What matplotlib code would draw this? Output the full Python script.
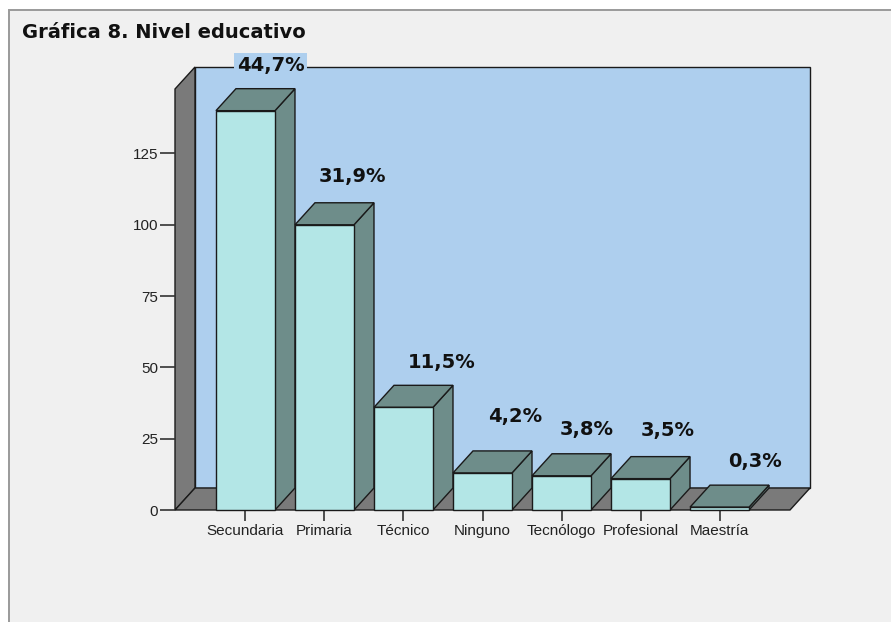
import matplotlib
matplotlib.use("Agg")
import matplotlib.pyplot as plt
from matplotlib.patches import Polygon, Rectangle

# Education level counts (n = 313)
categories = ["Secundaria", "Primaria", "Técnico", "Ninguno",
              "Tecnólogo", "Profesional", "Maestría"]
counts = [140, 100, 36, 13, 12, 11, 1]
y_ticks = [0, 25, 50, 75, 100, 125]

# placement of the percentage labels, pixels from the bar's front top
label_dx = [25, 28, 38, 33, 25, 27, 35]
label_dy = [45, 48, 45, 56, 46, 48, 46]

W, H = 891, 622
WALL = "#aecfee"
GREY = "#7a7a7a"
FRONT = "#b3e6e6"
SIDE = "#6e8d8a"
EDGE = "#1a1a1a"
DEPTH_X, DEPTH_Y = 20, 22          # pseudo-3D depth in pixels

fig = plt.figure(figsize=(W / 100, H / 100), dpi=100, facecolor="white")

# grey panel with border on top and left
fig.patches.append(Rectangle((9 / W, -0.05), 1.1, 1 - 10 / H + 0.05,
                             transform=fig.transFigure, facecolor="#f0f0f0",
                             edgecolor="#9a9a9a", linewidth=1.4, zorder=-10))

fig.text(22 / W, 1 - 33 / H, "Gráfica 8. Nivel educativo", fontsize=14,
         fontweight="bold", family="DejaVu Sans", va="center", ha="left",
         color="#111111")

# front plane of the chart box
left, right, bottom, top = 175, 790, 510, 89
ax = fig.add_axes([left / W, (H - bottom) / H, (right - left) / W, (bottom - top) / H])
ax.set_facecolor("none")
for s in ax.spines.values():
    s.set_visible(False)

x = list(range(len(categories)))
xl, xr = -0.892, len(categories) - 1 + 0.892
ymax = 147.6
ax.set_xlim(xl, xr)
ax.set_ylim(0, ymax)

# convert pixel depth to data units
dx = DEPTH_X * (xr - xl) / (right - left)
dy = DEPTH_Y * ymax / (bottom - top)


def poly(pts, fc, z):
    ax.add_patch(Polygon(pts, closed=True, facecolor=fc, edgecolor=EDGE,
                         linewidth=1.0, clip_on=False, zorder=z))


# walls and floor
poly([(xl + dx, dy), (xr + dx, dy), (xr + dx, ymax + dy), (xl + dx, ymax + dy)], WALL, 1)
poly([(xl, 0), (xl + dx, dy), (xl + dx, ymax + dy), (xl, ymax)], GREY, 1.1)
poly([(xl, 0), (xr, 0), (xr + dx, dy), (xl + dx, dy)], GREY, 1.1)

bw = 59 / 79
total = sum(counts)
for i, (xi, v) in enumerate(zip(x, counts)):
    x0, x1 = xi - bw / 2, xi + bw / 2
    z = 2 + i * 0.01
    poly([(x1, 0), (x1 + dx, dy), (x1 + dx, v + dy), (x1, v)], SIDE, z)
    poly([(x0, v), (x0 + dx, v + dy), (x1 + dx, v + dy), (x1, v)], SIDE, z)
    poly([(x0, 0), (x1, 0), (x1, v), (x0, v)], FRONT, z)
    pct = f"{100 * v / total:.1f}".replace(".", ",") + "%"
    ax.annotate(pct, (xi, v), xytext=(label_dx[i], label_dy[i]),
                textcoords="offset pixels",
                ha="center", va="center", fontsize=14, fontweight="bold",
                family="DejaVu Sans", color="#111111", zorder=5,
                annotation_clip=False,
                bbox=dict(boxstyle="square,pad=0.15", facecolor=WALL,
                          edgecolor="none"))

ax.set_xticks(x)
ax.set_xticklabels(categories)
ax.set_yticks(y_ticks)
ax.tick_params(axis="x", length=8, width=1.2, color="#333333", pad=2,
               labelsize=11, labelcolor="#222222")
ax.tick_params(axis="y", length=11, width=1.2, color="#333333", pad=1,
               labelsize=11, labelcolor="#222222")
for lab in ax.get_xticklabels() + ax.get_yticklabels():
    lab.set_family("Liberation Sans")

fig.savefig("out.png", dpi=100, facecolor=fig.get_facecolor())
